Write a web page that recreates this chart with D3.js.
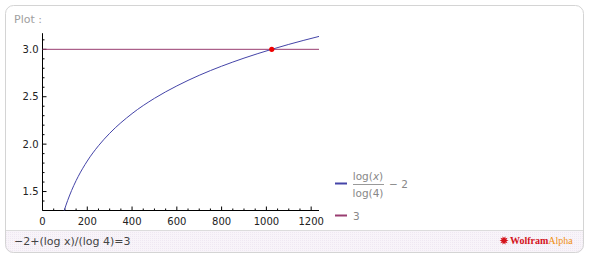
<!DOCTYPE html>
<html>
<head>
<meta charset="utf-8">
<script src="https://cdn.jsdelivr.net/npm/d3@7"></script>
<style>
  body { margin: 0; background: #fff; }
  svg text { font-family: "DejaVu Sans", sans-serif; }
</style>
</head>
<body>
<div id="chart"></div>
<script>
// values
var curveX = [97, 105, 120, 140, 160, 200, 250, 300, 400, 500, 600, 700, 800, 900, 1024, 1100, 1235];
var curveY = [1.30, 1.357, 1.453, 1.565, 1.661, 1.822, 1.983, 2.114, 2.322, 2.483, 2.614, 2.726, 2.822, 2.907, 3.0, 3.052, 3.136];
var lineValue = 3;
var solutionX = [1024];
var solutionY = [3];
var xTicks = [0, 200, 400, 600, 800, 1000, 1200];
var yTicks = [1.5, 2.0, 2.5, 3.0];
var xMinor = d3.range(0, 1235, 50);
var yMinor = [1.4, 1.5, 1.6, 1.7, 1.8, 1.9, 2.0, 2.1, 2.2, 2.3, 2.4, 2.5, 2.6, 2.7, 2.8, 2.9, 3.0, 3.1];

var W = 590, H = 259;
var svg = d3.select("#chart").append("svg")
    .attr("width", W)
    .attr("height", H);

// dotted texture for the footer band
var defs = svg.append("defs");
var pat = defs.append("pattern")
    .attr("id", "dots")
    .attr("width", 2).attr("height", 2)
    .attr("patternUnits", "userSpaceOnUse");
pat.append("rect").attr("width", 2).attr("height", 2).attr("fill", "#f8f4f9");
pat.append("rect").attr("width", 1).attr("height", 1).attr("fill", "#efe8f2");
defs.append("clipPath").attr("id", "frame")
  .append("rect").attr("x", 5).attr("y", 5).attr("width", 579).attr("height", 248).attr("rx", 8);

// frame + footer
svg.append("rect")
    .attr("x", 5).attr("y", 230).attr("width", 579).attr("height", 23)
    .attr("fill", "url(#dots)")
    .attr("clip-path", "url(#frame)");
svg.append("line")
    .attr("x1", 5).attr("x2", 584).attr("y1", 230.5).attr("y2", 230.5)
    .attr("stroke", "#dcdcdc");
svg.append("rect")
    .attr("x", 5.5).attr("y", 5.5).attr("width", 578).attr("height", 247)
    .attr("rx", 8)
    .attr("fill", "none")
    .attr("stroke", "#d4d4d4");

svg.append("text")
    .attr("x", 14).attr("y", 23)
    .attr("fill", "#a0a0a0")
    .style("font-size", "11px")
    .text("Plot :");

// scales
var x = d3.scaleLinear().domain([0, 1235]).range([42.5, 319]);
var y = d3.scaleLinear().domain([1.3, 3.17]).range([210.5, 33.2]);

var g = svg.append("g");

// axes
g.append("line")
    .attr("x1", x(0)).attr("x2", x(1235))
    .attr("y1", y(1.3)).attr("y2", y(1.3))
    .attr("stroke", "#000");
g.append("line")
    .attr("x1", x(0)).attr("x2", x(0))
    .attr("y1", y(1.3)).attr("y2", y(3.17))
    .attr("stroke", "#000");

g.selectAll(".xminor").data(xMinor).enter().append("line")
    .attr("x1", function(d) { return x(d); })
    .attr("x2", function(d) { return x(d); })
    .attr("y1", y(1.3))
    .attr("y2", function(d) { return y(1.3) - (d % 200 == 0 ? 4 : 2); })
    .attr("stroke", "#000");

g.selectAll(".yminor").data(yMinor).enter().append("line")
    .attr("x1", x(0))
    .attr("x2", function(d) { return x(0) + (Math.abs(d * 2 - Math.round(d * 2)) < 1e-6 ? 4 : 2); })
    .attr("y1", function(d) { return y(d); })
    .attr("y2", function(d) { return y(d); })
    .attr("stroke", "#000");

g.selectAll(".xlab").data(xTicks).enter().append("text")
    .attr("x", function(d) { return x(d); })
    .attr("y", y(1.3) + 14)
    .attr("text-anchor", "middle")
    .attr("fill", "#222")
    .style("font-size", "10px")
    .text(function(d) { return d; });

g.selectAll(".ylab").data(yTicks).enter().append("text")
    .attr("x", x(0) - 4)
    .attr("y", function(d) { return y(d) + 3.5; })
    .attr("text-anchor", "end")
    .attr("fill", "#222")
    .style("font-size", "10px")
    .text(function(d) { return d3.format(".1f")(d); });

// horizontal line y = 3
g.append("line")
    .attr("x1", x(0)).attr("x2", x(1235))
    .attr("y1", y(lineValue)).attr("y2", y(lineValue))
    .attr("stroke", "#993d70")
    .attr("stroke-width", 1);

// curve
var pts = curveX.map(function(d, i) { return [d, curveY[i]]; });
var line = d3.line()
    .x(function(d) { return x(d[0]); })
    .y(function(d) { return y(d[1]); })
    .curve(d3.curveMonotoneX);
g.append("path")
    .datum(pts)
    .attr("d", line)
    .attr("fill", "none")
    .attr("stroke", "#4444a8")
    .attr("stroke-width", 1);

// solution point
g.selectAll(".pt").data(solutionX).enter().append("circle")
    .attr("cx", function(d) { return x(d); })
    .attr("cy", function(d, i) { return y(solutionY[i]); })
    .attr("r", 2.6)
    .attr("fill", "#ee0000");

// legend
var leg = svg.append("g").attr("fill", "#888").style("font-size", "10.5px");
leg.append("line").attr("x1", 335).attr("x2", 347).attr("y1", 183.5).attr("y2", 183.5)
    .attr("stroke", "#4444a8").attr("stroke-width", 2);
var num = leg.append("text").attr("x", 368).attr("y", 180).attr("text-anchor", "middle");
num.append("tspan").text("log(");
num.append("tspan").style("font-style", "italic").text("x");
num.append("tspan").text(")");
leg.append("line").attr("x1", 353).attr("x2", 384).attr("y1", 184.5).attr("y2", 184.5)
    .attr("stroke", "#999").attr("stroke-width", 1);
leg.append("text").attr("x", 368).attr("y", 197).attr("text-anchor", "middle").text("log(4)");
leg.append("text").attr("x", 389).attr("y", 187.5).text("\u2212 2");
leg.append("line").attr("x1", 335).attr("x2", 347).attr("y1", 215.5).attr("y2", 215.5)
    .attr("stroke", "#993d70").attr("stroke-width", 2);
leg.append("text").attr("x", 353).attr("y", 219.5).text("3");

// footer
svg.append("text")
    .attr("x", 14).attr("y", 245)
    .attr("fill", "#444")
    .style("font-size", "11px")
    .text("\u22122+(log x)/(log 4)=3");

// logo
var star = d3.range(20).map(function(i) {
  var r = i % 2 == 0 ? 4.5 : 2.4;
  var a = i * Math.PI / 10;
  return [504 + r * Math.cos(a), 240.5 + r * Math.sin(a)];
});
svg.append("polygon")
    .attr("points", star.map(function(p) { return p.join(","); }).join(" "))
    .attr("fill", "#d4131b");
var logo = svg.append("text")
    .attr("x", 510).attr("y", 244)
    .style("font-family", "'Liberation Serif', serif")
    .style("font-size", "10px");
logo.append("tspan").attr("fill", "#d4131b").style("font-weight", "bold").text("Wolfram");
logo.append("tspan").attr("fill", "#f0900f").text("Alpha");
</script>
</body>
</html>
